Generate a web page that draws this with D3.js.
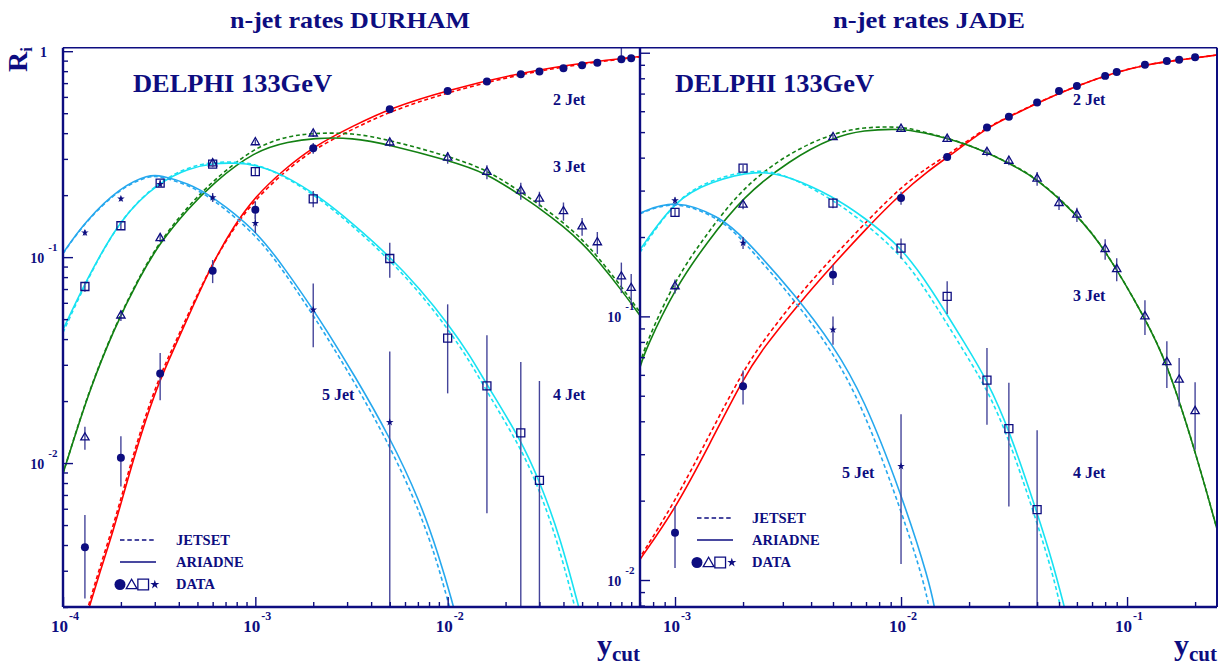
<!DOCTYPE html>
<html>
<head>
<meta charset="utf-8">
<script src="https://cdn.jsdelivr.net/npm/d3@7"></script>
<style>
  body { margin: 0; background: #fff; }
  svg text { font-family: "Liberation Serif", "Times New Roman", serif; font-weight: bold; fill: #0d0d80; }
</style>
</head>
<body>
<svg id="chart" width="1224" height="667"></svg>
<script>
// ---------------- DURHAM measurements ----------------
const durhamYcut = [1.3e-4, 2e-4, 3.2e-4, 6e-4, 1e-3, 2e-3, 5e-3, 0.01, 0.016, 0.024, 0.03, 0.04, 0.05, 0.06, 0.08, 0.09];
const durhamR2 = [0.0039, 0.0106, 0.0272, 0.0858, 0.170, 0.338, 0.523, 0.641, 0.712, 0.773, 0.796, 0.827, 0.855, 0.880, 0.915, 0.925];
const durhamR2Err = [0.0017, 0.0029, 0.007, 0.011, 0.017, 0.02, 0.012, 0.01, 0.01, 0.01, 0.01, 0.01, 0.01, 0.01, [0, 0.13], 0.01];
const durhamR3 = [0.0133, 0.052, 0.1236, 0.285, 0.361, 0.398, 0.360, 0.304, 0.259, 0.210, 0.192, 0.167, 0.141, 0.118, 0.0805, 0.0708];
const durhamR3Err = [0.0017, 0.003, 0.005, 0.01, 0.012, 0.015, 0.015, 0.02, 0.02, 0.02, 0.016, 0.017, 0.014, 0.0145, 0.0136, 0.012];
const durhamR4 = [0.072, 0.142, 0.229, 0.283, 0.260, 0.192, 0.0985, 0.0404, 0.0237, 0.0140, 0.00824];
const durhamR4Err = [0.004, 0.005, 0.008, 0.01, 0.012, 0.0175, 0.019, 0.0186, 0.018, 0.017, 0.0168];
const durhamR5 = [0.1315, 0.192, 0.226, 0.195, 0.146, 0.0555, 0.0158];
const durhamR5Err = [0.004, 0.005, 0.008, 0.01, 0.015, 0.019, 0.019];

// DURHAM model predictions [ycut, R]
const durhamAriadne2 = [[1.33e-4, 0.00182], [1.37e-4, 0.002], [1.556e-4, 0.00296], [1.83e-4, 0.00473], [2.1e-4, 0.00747], [2.565e-4, 0.0143], [3.19e-4, 0.0254], [3.75e-4, 0.0354], [4.7e-4, 0.0569], [6e-4, 0.0936], [7.7e-4, 0.141], [1e-3, 0.197], [1.4e-3, 0.265], [2e-3, 0.344], [3.23e-3, 0.434], [5e-3, 0.528], [0.01, 0.648], [0.024, 0.787], [0.0528, 0.884], [0.1, 0.942]];
const durhamJetset2 = [[1.33e-4, 0.0019], [1.37e-4, 0.0021], [1.556e-4, 0.00313], [1.83e-4, 0.005], [2.1e-4, 0.0079], [2.565e-4, 0.0151], [3.19e-4, 0.0266], [3.75e-4, 0.0368], [4.7e-4, 0.0585], [6e-4, 0.0935], [7.7e-4, 0.138], [1e-3, 0.191], [1.4e-3, 0.257], [2e-3, 0.334], [3.23e-3, 0.42], [5e-3, 0.51], [0.01, 0.632], [0.024, 0.776], [0.0528, 0.876], [0.1, 0.938]];
const durhamAriadne3 = [[1e-4, 0.0089], [1.18e-4, 0.0145], [1.38e-4, 0.0227], [1.83e-4, 0.0444], [2.51e-4, 0.0805], [3.2e-4, 0.118], [4.5e-4, 0.173], [6e-4, 0.228], [1e-3, 0.33], [1.5e-3, 0.364], [2e-3, 0.378], [3.2e-3, 0.381], [5e-3, 0.351], [0.01, 0.296], [0.016, 0.256], [0.024, 0.199], [0.03, 0.173], [0.04, 0.141], [0.05, 0.117], [0.06, 0.097], [0.08, 0.0694], [0.1, 0.052]];
const durhamJetset3 = [[1e-4, 0.0089], [1.18e-4, 0.0146], [1.38e-4, 0.0229], [1.83e-4, 0.0448], [2.51e-4, 0.0815], [3.2e-4, 0.12], [4.5e-4, 0.178], [6e-4, 0.234], [1e-3, 0.345], [1.5e-3, 0.388], [2e-3, 0.40], [3.2e-3, 0.402], [5e-3, 0.37], [0.01, 0.31], [0.016, 0.266], [0.024, 0.207], [0.03, 0.18], [0.04, 0.147], [0.05, 0.122], [0.06, 0.101], [0.08, 0.072], [0.1, 0.054]];
const durhamAriadne4 = [[1e-4, 0.0444], [1.3e-4, 0.075], [2e-4, 0.157], [3.2e-4, 0.233], [4.5e-4, 0.27], [6e-4, 0.286], [8e-4, 0.287], [1e-3, 0.281], [1.4e-3, 0.252], [2.17e-3, 0.196], [3.23e-3, 0.145], [5e-3, 0.1007], [7.18e-3, 0.070], [0.01, 0.0478], [0.0131, 0.0332], [0.016, 0.024], [0.024, 0.013], [0.03, 0.0082], [0.0384, 0.0044], [0.0487, 0.0019]];
const durhamJetset4 = [[1e-4, 0.043], [1.3e-4, 0.074], [2e-4, 0.157], [3.2e-4, 0.235], [4.5e-4, 0.274], [6e-4, 0.29], [8e-4, 0.29], [1e-3, 0.283], [1.4e-3, 0.25], [2.17e-3, 0.192], [3.23e-3, 0.141], [5e-3, 0.097], [7.18e-3, 0.067], [0.01, 0.045], [0.0131, 0.031], [0.016, 0.0222], [0.024, 0.0119], [0.03, 0.0074], [0.0375, 0.0041], [0.0465, 0.0019]];
const durhamAriadne5 = [[1e-4, 0.1045], [1.3e-4, 0.149], [2e-4, 0.22], [2.8e-4, 0.251], [3.2e-4, 0.25], [4.5e-4, 0.228], [6e-4, 0.197], [1e-3, 0.136], [1.4e-3, 0.090], [2e-3, 0.0555], [2.3e-3, 0.0454], [3.23e-3, 0.0273], [5e-3, 0.0134], [7.18e-3, 0.00653], [8.93e-3, 0.00363], [0.0107, 0.00204], [0.011, 0.0018]];
const durhamJetset5 = [[1e-4, 0.104], [1.3e-4, 0.148], [2e-4, 0.218], [2.8e-4, 0.248], [3.2e-4, 0.247], [4.5e-4, 0.224], [6e-4, 0.192], [1e-3, 0.13], [1.4e-3, 0.086], [2e-3, 0.052], [2.3e-3, 0.0424], [3.23e-3, 0.0253], [5e-3, 0.0122], [7.18e-3, 0.0058], [8.93e-3, 0.0032], [0.0102, 0.002], [0.0106, 0.0018]];

// ---------------- JADE measurements ----------------
const jadeYcut = [1e-3, 2e-3, 5e-3, 0.01, 0.016, 0.024, 0.03, 0.04, 0.05, 0.06, 0.08, 0.09, 0.12, 0.15, 0.17, 0.20];
const jadeR2 = [0.0151, 0.0543, 0.144, 0.281, 0.402, 0.521, 0.572, 0.647, 0.716, 0.748, 0.817, 0.846, 0.900, 0.930, 0.941, 0.961];
const jadeR2Err = [0.004, 0.008, 0.0125, 0.016, 0.012, 0.012, 0.01, 0.01, 0.01, 0.01, 0.01, 0.01, 0.01, 0.01, 0.01, 0.01];
const jadeR3 = [0.130, 0.265, 0.478, 0.514, 0.471, 0.420, 0.389, 0.333, 0.269, 0.243, 0.180, 0.151, 0.100, 0.067, 0.0575, 0.0437];
const jadeR3Err = [0.008, 0.01, 0.01, 0.01, 0.012, 0.015, 0.015, 0.02, 0.016, 0.015, 0.016, 0.015, 0.015, 0.0135, 0.012, 0.0125];
const jadeR4 = [0.248, 0.365, 0.269, 0.1815, 0.119, 0.0573, 0.0375, 0.0185];
const jadeR4Err = [0.008, 0.01, 0.012, 0.016, 0.017, 0.0185, 0.0185, 0.0185];
const jadeR5 = [0.275, 0.19, 0.089, 0.027];
const jadeR5Err = [0.008, 0.01, 0.011, 0.0155];

// JADE model predictions [ycut, R]
const jadeAriadne2 = [[6.9e-4, 0.0117], [7e-4, 0.012], [1e-3, 0.0185], [1.43e-3, 0.033], [2e-3, 0.058], [2.46e-3, 0.076], [3.57e-3, 0.113], [5e-3, 0.157], [7e-3, 0.215], [0.01, 0.293], [0.0134, 0.36], [0.016, 0.40], [0.024, 0.52], [0.03, 0.57], [0.04, 0.645], [0.06, 0.75], [0.09, 0.845], [0.12, 0.9], [0.17, 0.94], [0.25, 0.98]];
const jadeJetset2 = [[6.9e-4, 0.0119], [7e-4, 0.0122], [1e-3, 0.0198], [1.43e-3, 0.036], [2e-3, 0.062], [2.46e-3, 0.081], [3.57e-3, 0.122], [5e-3, 0.168], [7e-3, 0.228], [0.01, 0.31], [0.0134, 0.372], [0.016, 0.408], [0.024, 0.523], [0.03, 0.572], [0.04, 0.646], [0.06, 0.75], [0.09, 0.845], [0.12, 0.9], [0.17, 0.94], [0.25, 0.98]];
const jadeAriadne3 = [[7e-4, 0.064], [7.4e-4, 0.0748], [1e-3, 0.128], [1.38e-3, 0.19], [2e-3, 0.285], [3.23e-3, 0.392], [5e-3, 0.478], [6.8e-3, 0.509], [0.01, 0.515], [0.0121, 0.502], [0.0195, 0.454], [0.0302, 0.381], [0.04, 0.333], [0.06, 0.243], [0.08, 0.18], [0.12, 0.0986], [0.15, 0.067], [0.2, 0.031], [0.25, 0.0156]];
const jadeJetset3 = [[7e-4, 0.066], [7.4e-4, 0.078], [1e-3, 0.138], [1.38e-3, 0.205], [2e-3, 0.31], [3.23e-3, 0.42], [5e-3, 0.495], [6.8e-3, 0.522], [0.01, 0.525], [0.0121, 0.505], [0.0195, 0.455], [0.0302, 0.382], [0.04, 0.334], [0.06, 0.244], [0.08, 0.18], [0.12, 0.0986], [0.15, 0.067], [0.2, 0.031], [0.25, 0.0156]];
const jadeAriadne4 = [[7e-4, 0.179], [1e-3, 0.277], [1.43e-3, 0.324], [2.3e-3, 0.36], [3.23e-3, 0.339], [5e-3, 0.285], [6.8e-3, 0.239], [0.01, 0.184], [0.0134, 0.13], [0.0195, 0.077], [0.024, 0.0573], [0.03, 0.0375], [0.04, 0.018], [0.047, 0.0116], [0.0536, 0.0075]];
const jadeJetset4 = [[7e-4, 0.175], [1e-3, 0.277], [1.43e-3, 0.33], [2.3e-3, 0.365], [3.23e-3, 0.34], [5e-3, 0.277], [6.8e-3, 0.228], [0.01, 0.172], [0.0134, 0.12], [0.0195, 0.071], [0.024, 0.053], [0.03, 0.0345], [0.04, 0.0165], [0.047, 0.0105], [0.0515, 0.0075]];
const jadeAriadne5 = [[7e-4, 0.2466], [1e-3, 0.279], [1.58e-3, 0.239], [2e-3, 0.201], [3.45e-3, 0.119], [5e-3, 0.078], [6.8e-3, 0.0498], [0.01, 0.0214], [0.0134, 0.0098], [0.0142, 0.0075]];
const jadeJetset5 = [[7e-4, 0.245], [1e-3, 0.277], [1.58e-3, 0.235], [2e-3, 0.195], [3.45e-3, 0.113], [5e-3, 0.073], [6.8e-3, 0.045], [0.01, 0.0185], [0.0128, 0.0095], [0.0134, 0.0075]];

// ---------------- styling ----------------
const navy = "#0d0d80";
const errColor = "#45459a";
const jetColor = { 2: "#ff0000", 3: "#138013", 4: "#18e2f2", 5: "#26a8ee" };
const dash = "4,2.8";
const frameTop = 47.7, frameBottom = 607;

const svg = d3.select("#chart");
svg.append("rect").attr("width", 1224).attr("height", 667).attr("fill", "#fff");

const isDecade = v => Math.abs(Math.log10(v) - Math.round(Math.log10(v))) < 1e-6;

function marker(kind, size) {
  if (kind === "circle") return d3.symbol(d3.symbolCircle, size)();
  if (kind === "triangle") return d3.symbol(d3.symbolTriangle, size)();
  if (kind === "square") return d3.symbol(d3.symbolSquare, size)();
  return d3.symbol(d3.symbolStar, size)();
}
const markerSize = { circle: 50, triangle: 30, square: 64, star: 18 };
const legendSize = { circle: 95, triangle: 50, square: 114, star: 26 };
function styleMarker(sel, kind) {
  if (kind === "circle" || kind === "star") sel.attr("fill", navy).attr("stroke", "none");
  else sel.attr("fill", "none").attr("stroke", navy).attr("stroke-width", 1.3);
}

function drawPanel(p) {
  const { x, y, id } = p;
  const [x0, x1] = x.range();

  svg.append("clipPath").attr("id", "clip-" + id)
    .append("rect").attr("x", x0).attr("y", frameTop).attr("width", x1 - x0).attr("height", frameBottom - frameTop);

  const plot = svg.append("g").attr("clip-path", `url(#clip-${id})`);

  // model curves
  const line = d3.line().x(d => x(d[0])).y(d => y(d[1])).curve(d3.curveBasis);
  p.curves.forEach(c => {
    plot.append("path").attr("d", line(c.pts)).attr("fill", "none")
      .attr("stroke", jetColor[c.n]).attr("stroke-width", 1.6)
      .attr("stroke-dasharray", c.dashed ? dash : null);
  });

  // measured points with error bars
  p.series.forEach(s => {
    const g = plot.append("g");
    s.r.forEach((v, i) => {
      const xv = s.ycut[i];
      const e = s.err[i];
      const lo = Array.isArray(e) ? e[0] : e, hi = Array.isArray(e) ? e[1] : e;
      const yLo = v - lo > 0 ? y(v - lo) : frameBottom + 5;
      g.append("line").attr("x1", x(xv)).attr("x2", x(xv))
        .attr("y1", Math.min(yLo, frameBottom + 5)).attr("y2", y(v + hi))
        .attr("stroke", errColor).attr("stroke-width", 1.4);
    });
    s.r.forEach((v, i) => {
      g.append("path").attr("d", marker(s.kind, markerSize[s.kind]))
        .attr("transform", `translate(${x(s.ycut[i])},${y(v)})`)
        .call(styleMarker, s.kind);
    });
  });

  // ticks: y axis (pointing inward)
  const yTicks = y.ticks();
  const yAxisMinor = d3.axisLeft(y).tickValues(yTicks.filter(v => !isDecade(v))).tickSize(-5).tickFormat(() => "");
  const yAxisMajor = d3.axisLeft(y).tickValues(yTicks.filter(isDecade)).tickSize(-10).tickFormat(() => "");
  [yAxisMinor, yAxisMajor].forEach(ax => {
    const g = svg.append("g").attr("transform", `translate(${x0},0)`).call(ax);
    g.select(".domain").remove();
    g.selectAll("line").attr("stroke", navy).attr("stroke-width", 1.4);
  });
  // ticks: x axis (pointing inward); nothing at the shared right edge
  const xTicks = x.ticks().filter(v => x(v) < x1 - 2);
  const xAxisMinor = d3.axisBottom(x).tickValues(xTicks.filter(v => !isDecade(v))).tickSize(-5).tickFormat(() => "");
  const xAxisMajor = d3.axisBottom(x).tickValues(xTicks.filter(isDecade)).tickSize(-10).tickFormat(() => "");
  [xAxisMinor, xAxisMajor].forEach(ax => {
    const g = svg.append("g").attr("transform", `translate(0,${frameBottom})`).call(ax);
    g.select(".domain").remove();
    g.selectAll("line").attr("stroke", navy).attr("stroke-width", 1.4);
  });

  // y tick labels
  yTicks.filter(isDecade).forEach(v => {
    const e = Math.round(Math.log10(v));
    if (e === 0) {
      if (p.showOne) svg.append("text").attr("x", x0 - 16).attr("y", y(v) + 5.5)
        .attr("text-anchor", "end").attr("font-size", 14).text("1");
      return;
    }
    const t = svg.append("text").attr("x", x0 - 5.5).attr("y", y(v) + 5.5)
      .attr("text-anchor", "end").attr("font-size", 14);
    t.append("tspan").text("10");
    t.append("tspan").attr("dx", 4).attr("dy", -11.5).attr("font-size", 11).text("-" + Math.abs(e));
  });
  // x tick labels
  xTicks.filter(isDecade).forEach(v => {
    const e = Math.round(Math.log10(v));
    const t = svg.append("text").attr("x", x(v) + 2).attr("y", 632)
      .attr("text-anchor", "middle").attr("font-size", 17);
    t.append("tspan").text("10");
    t.append("tspan").attr("dx", 1).attr("dy", -12).attr("font-size", 12).text("-" + Math.abs(e));
  });

  // frame
  svg.append("line").attr("x1", x0).attr("x2", x1).attr("y1", frameTop).attr("y2", frameTop)
    .attr("stroke", navy).attr("stroke-width", 1.6);
  svg.append("line").attr("x1", x0).attr("x2", x0).attr("y1", frameTop).attr("y2", frameBottom)
    .attr("stroke", navy).attr("stroke-width", 2.4);
  svg.append("line").attr("x1", x0).attr("x2", x1).attr("y1", frameBottom).attr("y2", frameBottom)
    .attr("stroke", navy).attr("stroke-width", 2.4);
  if (p.rightBorder) svg.append("line").attr("x1", x1).attr("x2", x1).attr("y1", frameTop).attr("y2", frameBottom)
    .attr("stroke", navy).attr("stroke-width", 2);

  // title and axis name
  svg.append("text").attr("x", p.titleX).attr("y", 28).attr("text-anchor", "middle")
    .attr("font-size", 23.5).attr("textLength", p.titleW).attr("lengthAdjust", "spacingAndGlyphs").text(p.title);
  const yc = svg.append("text").attr("x", x1).attr("y", 655).attr("text-anchor", "end").attr("font-size", 30);
  yc.append("tspan").text("y");
  yc.append("tspan").attr("dy", 6).attr("font-size", 21).text("cut");

  // annotations
  svg.append("text").attr("x", p.delphi[0]).attr("y", p.delphi[1]).attr("font-size", 25.5)
    .attr("textLength", 199).attr("lengthAdjust", "spacingAndGlyphs").text("DELPHI 133GeV");
  p.jetLabels.forEach(l => {
    svg.append("text").attr("x", l[1]).attr("y", l[2]).attr("font-size", 16).text(l[0]);
  });

  // legend
  const L = p.legend;
  svg.append("line").attr("x1", L.x).attr("x2", L.x + 36).attr("y1", L.y).attr("y2", L.y)
    .attr("stroke", navy).attr("stroke-width", 1.4).attr("stroke-dasharray", "4.5,2.8");
  svg.append("line").attr("x1", L.x).attr("x2", L.x + 36).attr("y1", L.y + 22).attr("y2", L.y + 22)
    .attr("stroke", navy).attr("stroke-width", 1.4);
  ["JETSET", "ARIADNE", "DATA"].forEach((t, i) => {
    svg.append("text").attr("x", L.tx).attr("y", L.y + 5 + 22 * i).attr("font-size", 14.5).text(t);
  });
  ["circle", "triangle", "square", "star"].forEach((k, i) => {
    svg.append("path").attr("d", marker(k, legendSize[k]))
      .attr("transform", `translate(${L.x + i * 11.6},${L.y + 44.5 + (k === "triangle" ? 1 : 0)})`)
      .call(styleMarker, k);
  });
}

// ---------------- DURHAM panel ----------------
drawPanel({
  id: "durham",
  x: d3.scaleLog().domain([1e-4, 0.1]).range([63, 640]),
  y: d3.scaleLog().domain([0.002, 1.04]).range([frameBottom, frameTop]),
  showOne: true,
  rightBorder: false,
  title: "n-jet rates DURHAM",
  titleX: 350,
  titleW: 240,
  delphi: [133, 92],
  jetLabels: [["2 Jet", 553, 105], ["3 Jet", 553, 172], ["5 Jet", 322, 400], ["4 Jet", 553, 400]],
  legend: { x: 120, y: 540, tx: 176 },
  curves: [
    { n: 2, pts: durhamJetset2, dashed: true }, { n: 2, pts: durhamAriadne2 },
    { n: 3, pts: durhamJetset3, dashed: true }, { n: 3, pts: durhamAriadne3 },
    { n: 4, pts: durhamJetset4, dashed: true }, { n: 4, pts: durhamAriadne4 },
    { n: 5, pts: durhamJetset5, dashed: true }, { n: 5, pts: durhamAriadne5 }
  ],
  series: [
    { kind: "circle", ycut: durhamYcut, r: durhamR2, err: durhamR2Err },
    { kind: "triangle", ycut: durhamYcut, r: durhamR3, err: durhamR3Err },
    { kind: "square", ycut: durhamYcut, r: durhamR4, err: durhamR4Err },
    { kind: "star", ycut: durhamYcut, r: durhamR5, err: durhamR5Err }
  ]
});

// ---------------- JADE panel ----------------
drawPanel({
  id: "jade",
  x: d3.scaleLog().domain([7e-4, 0.25]).range([640, 1217]),
  y: d3.scaleLog().domain([0.0079, 1.045]).range([frameBottom, frameTop]),
  showOne: false,
  rightBorder: true,
  title: "n-jet rates JADE",
  titleX: 929,
  titleW: 192,
  delphi: [675, 92],
  jetLabels: [["2 Jet", 1073, 105], ["3 Jet", 1073, 301], ["5 Jet", 842, 478], ["4 Jet", 1073, 478]],
  legend: { x: 697, y: 518, tx: 752 },
  curves: [
    { n: 2, pts: jadeJetset2, dashed: true }, { n: 2, pts: jadeAriadne2 },
    { n: 3, pts: jadeJetset3, dashed: true }, { n: 3, pts: jadeAriadne3 },
    { n: 4, pts: jadeJetset4, dashed: true }, { n: 4, pts: jadeAriadne4 },
    { n: 5, pts: jadeJetset5, dashed: true }, { n: 5, pts: jadeAriadne5 }
  ],
  series: [
    { kind: "circle", ycut: jadeYcut, r: jadeR2, err: jadeR2Err },
    { kind: "triangle", ycut: jadeYcut, r: jadeR3, err: jadeR3Err },
    { kind: "square", ycut: jadeYcut, r: jadeR4, err: jadeR4Err },
    { kind: "star", ycut: jadeYcut, r: jadeR5, err: jadeR5Err }
  ]
});

// vertical axis name
const ri = svg.append("text").attr("transform", "translate(27,72) rotate(-90)").attr("font-size", 28);
ri.append("tspan").text("R");
ri.append("tspan").attr("dy", 5).attr("font-size", 17).text("i");
</script>
</body>
</html>
